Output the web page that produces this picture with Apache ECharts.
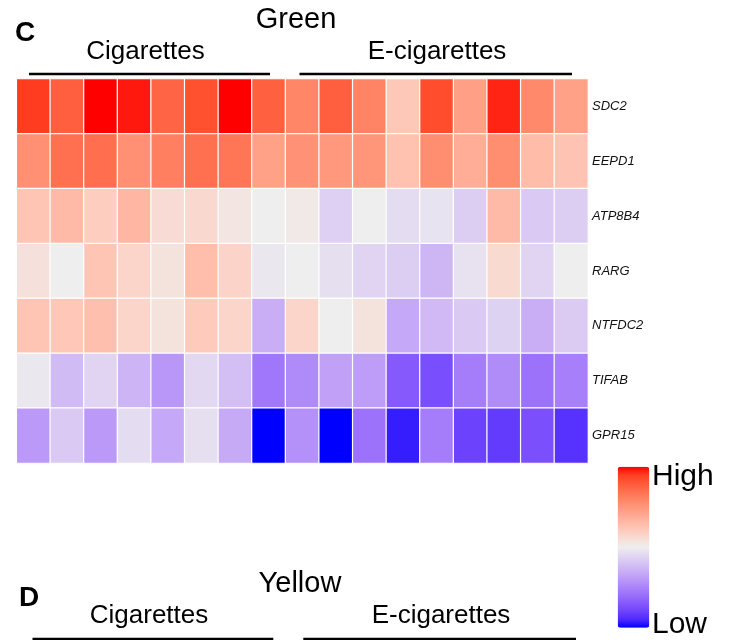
<!DOCTYPE html>
<html>
<head>
<meta charset="utf-8">
<script src="https://cdn.jsdelivr.net/npm/echarts@6/dist/echarts.min.js"></script>
<style>
html,body{margin:0;padding:0;background:#fff;}
#chart{width:730px;height:640px;}
</style>
</head>
<body>
<div id="chart"></div>
<script>
// ---- data ----
const genes = ['SDC2', 'EEPD1', 'ATP8B4', 'RARG', 'NTFDC2', 'TIFAB', 'GPR15'];
const samples = ['C1','C2','C3','C4','C5','C6','C7','C8','E1','E2','E3','E4','E5','E6','E7','E8','E9'];
const groupLabels = ['Cigarettes', 'E-cigarettes'];
const SDC2   = [0.90, 0.77, 1.00, 0.96, 0.74, 0.83, 1.00, 0.76, 0.58, 0.77, 0.60, 0.22, 0.84, 0.45, 0.94, 0.57, 0.44];
const EEPD1  = [0.53, 0.69, 0.70, 0.53, 0.62, 0.69, 0.66, 0.44, 0.52, 0.49, 0.50, 0.26, 0.55, 0.37, 0.54, 0.29, 0.25];
const ATP8B4 = [0.24, 0.30, 0.19, 0.32, 0.11, 0.13, 0.05, 0.00, 0.03, -0.14, 0.00, -0.08, -0.05, -0.15, 0.30, -0.17, -0.15];
const RARG   = [0.08, 0.00, 0.24, 0.15, 0.07, 0.28, 0.16, -0.03, 0.00, -0.07, -0.12, -0.15, -0.26, -0.06, 0.12, -0.12, 0.00];
const NTFDC2 = [0.24, 0.23, 0.27, 0.15, 0.07, 0.21, 0.15, -0.30, 0.15, 0.00, 0.07, -0.33, -0.25, -0.17, -0.13, -0.30, -0.16];
const TIFAB  = [-0.03, -0.24, -0.12, -0.27, -0.41, -0.10, -0.22, -0.56, -0.47, -0.36, -0.38, -0.70, -0.75, -0.53, -0.46, -0.58, -0.52];
const GPR15  = [-0.40, -0.17, -0.40, -0.08, -0.33, -0.07, -0.32, -1.00, -0.44, -1.00, -0.58, -0.93, -0.53, -0.80, -0.83, -0.74, -0.87];
const rows = [SDC2, EEPD1, ATP8B4, RARG, NTFDC2, TIFAB, GPR15];

// colour ramp (blue - grey - red, Lab-interpolated stops)
const ramp = ['#0000ff','#4d29fe','#6d42fd','#8559fc','#996efb','#aa83fa','#ba99f8','#c9aef6','#d6c3f4','#e2d8f1',
              '#eeeeee','#f7ddd6','#feccbe','#ffbaa7','#ffa890','#ff967a','#ff8364','#ff6e4e','#ff5837','#ff3c20','#ff0000'];

// ---- build heatmap data ----
const heat = [];
rows.forEach((r, gi) => r.forEach((v, si) => heat.push([si, gi, v])));

const FONT = 'Liberation Sans, Arial, Helvetica, sans-serif';
const chart = echarts.init(document.getElementById('chart'), null, {renderer: 'canvas'});

function txt(x, y, text, size) {
  return {type: 'text', x: x, y: y,
    style: {text: text, font: size + 'px ' + FONT, fill: '#000', align: 'center', verticalAlign: 'middle'}};
}
function line(x1, x2, y) {
  return {type: 'line', shape: {x1: x1, y1: y, x2: x2, y2: y}, style: {stroke: '#000', lineWidth: 2.6}};
}

const option = {
  backgroundColor: '#fff',
  animation: false,
  grid: {left: 16.7, top: 79, width: 571.3, height: 384},
  xAxis: {
    type: 'category', data: samples,
    axisLine: {show: false}, axisTick: {show: false}, axisLabel: {show: false}, splitLine: {show: false}
  },
  yAxis: {
    type: 'category', data: genes, inverse: true, position: 'right',
    axisLine: {show: false}, axisTick: {show: false}, splitLine: {show: false},
    axisLabel: {fontStyle: 'italic', fontSize: 13, color: '#111', fontFamily: FONT, margin: 4}
  },
  visualMap: {
    type: 'continuous', min: -1, max: 1, orient: 'vertical',
    left: 617.7, top: 466.7, itemWidth: 31.6, itemHeight: 161,
    padding: 0, calculable: false, hoverLink: false, realtime: false,
    inRange: {color: ramp},
    text: null, showLabel: false
  },
  series: [{
    type: 'heatmap', data: heat,
    itemStyle: {borderColor: '#ffffff', borderWidth: 1.2},
    emphasis: {disabled: true}
  }],
  graphic: [
    // panel C
    {type: 'text', x: 15, y: 33, style: {text: 'C', font: 'bold 28px ' + FONT, fill: '#000', align: 'left', verticalAlign: 'middle'}},
    txt(296, 19.5, 'Green', 29),
    txt(145.5, 52, groupLabels[0], 26),
    txt(437, 52, groupLabels[1], 26),
    line(29, 270, 74),
    line(299.5, 572, 74),
    // colour key labels
    {type: 'text', x: 652, y: 477, style: {text: 'High', font: '30px ' + FONT, fill: '#000', align: 'left', verticalAlign: 'middle'}},
    {type: 'text', x: 652, y: 624.5, style: {text: 'Low', font: '30px ' + FONT, fill: '#000', align: 'left', verticalAlign: 'middle'}},
    // panel D (cut off)
    {type: 'text', x: 19, y: 598, style: {text: 'D', font: 'bold 28px ' + FONT, fill: '#000', align: 'left', verticalAlign: 'middle'}},
    txt(300, 584, 'Yellow', 29),
    txt(149, 616, groupLabels[0], 26),
    txt(441, 616, groupLabels[1], 26),
    line(32.5, 273.3, 639),
    line(303.3, 576, 639)
  ]
};
chart.setOption(option);
</script>
</body>
</html>
